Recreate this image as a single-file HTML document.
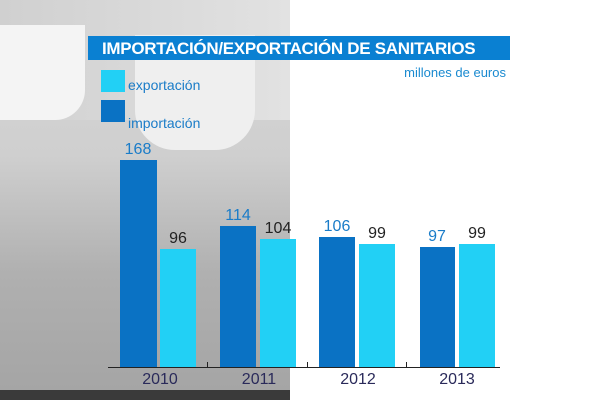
<!DOCTYPE html>
<html><head><meta charset="utf-8"><style>
body{margin:0;width:600px;height:400px;position:relative;background:#fff;font-family:"Liberation Sans",sans-serif;overflow:hidden}
div{position:absolute}
.i{background:#0a72c4}.e{background:#22d0f5}
.n{font-size:16px;text-align:center;width:40px}
.y{font-size:16px;color:#2a2a5a;width:60px;text-align:center;top:371px}
</style></head><body>
<div style="left:0;top:0;width:290px;height:390px;background:linear-gradient(180deg,#d8d8d8 0,#cfcfcf 40%,#b0b0b0 70%,#a5a5a5 100%)"></div>
<div style="left:0;top:0;width:290px;height:120px;background:linear-gradient(90deg,#d0d0d0,#e2e2e2)"></div>
<div style="left:0;top:25px;width:85px;height:95px;background:#f4f4f4;border-radius:0 0 30px 0"></div>
<div style="left:135px;top:35px;width:120px;height:115px;background:#efefef;border-radius:0 0 40px 40px"></div>
<div style="left:0;top:390px;width:290px;height:10px;background:#3a3a3a"></div>
<div style="left:88px;top:36px;width:422px;height:24px;background:#0a80d2;color:#fff;font-weight:bold;font-size:17px;line-height:25px;text-indent:14px;letter-spacing:-0.3px">IMPORTACIÓN/EXPORTACIÓN DE SANITARIOS</div>
<div style="left:380px;top:65px;width:126px;text-align:right;color:#1a8ad0;font-size:13px">millones de euros</div>
<div class="e" style="left:101px;top:70px;width:24px;height:22px"></div>
<div style="left:128px;top:77px;color:#1a7cc8;font-size:14px">exportación</div>
<div class="i" style="left:101px;top:100px;width:24px;height:22px"></div>
<div style="left:128px;top:115px;color:#1a7cc8;font-size:14px">importación</div>

<div class="i" style="left:120px;top:160px;width:37px;height:207px"></div>
<div class="e" style="left:160px;top:249px;width:36px;height:118px"></div>
<div class="i" style="left:220px;top:226px;width:36px;height:141px"></div>
<div class="e" style="left:260px;top:239px;width:36px;height:128px"></div>
<div class="i" style="left:319px;top:237px;width:36px;height:130px"></div>
<div class="e" style="left:359px;top:244px;width:36px;height:123px"></div>
<div class="i" style="left:420px;top:247px;width:35px;height:120px"></div>
<div class="e" style="left:459px;top:244px;width:36px;height:123px"></div>

<div class="n" style="left:118px;top:141px;color:#1a7cc8">168</div>
<div class="n" style="left:158px;top:230px;color:#222">96</div>
<div class="n" style="left:218px;top:207px;color:#1a7cc8">114</div>
<div class="n" style="left:258px;top:220px;color:#222">104</div>
<div class="n" style="left:317px;top:218px;color:#1a7cc8">106</div>
<div class="n" style="left:357px;top:225px;color:#222">99</div>
<div class="n" style="left:417px;top:228px;color:#1a7cc8">97</div>
<div class="n" style="left:457px;top:225px;color:#222">99</div>

<div style="left:108px;top:367px;width:392px;height:1px;background:#222"></div>
<div style="left:207px;top:362px;width:1px;height:5px;background:#222"></div>
<div style="left:307px;top:362px;width:1px;height:5px;background:#222"></div>
<div style="left:406px;top:362px;width:1px;height:5px;background:#222"></div>
<div class="y" style="left:130px">2010</div>
<div class="y" style="left:229px">2011</div>
<div class="y" style="left:328px">2012</div>
<div class="y" style="left:427px">2013</div>
</body></html>
